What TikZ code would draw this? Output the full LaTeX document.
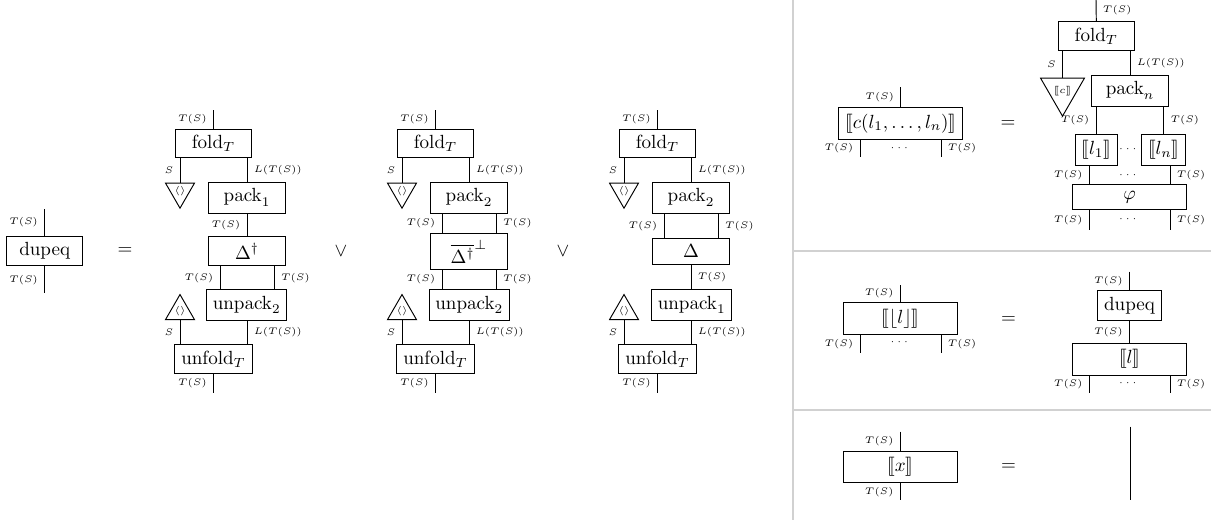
\documentclass[tikz,border=0pt]{standalone}
\usepackage{amsmath,amssymb,stmaryrd}
\usetikzlibrary{shapes.geometric}
\tikzstyle{box}=[rectangle,draw]
\tikzstyle{mbox}=[box,minimum width=40pt]
\tikzstyle{wbox}=[box,minimum width=60pt]
\tikzstyle{lbl}=[font=\tiny]
\tikzstyle{counit}=[regular polygon,regular polygon sides=3,shape border rotate=180,draw,inner sep=0pt,minimum size=17.5pt,font=\tiny]
\tikzstyle{unit}=[regular polygon,regular polygon sides=3,draw,inner sep=0pt,minimum size=17.5pt,font=\tiny]
\tikzstyle{sep}=[draw=black!18,line width=1pt]
\begin{document}
\begin{tikzpicture}[x=0.525pt,y=-0.525pt,line width=0.5pt]
\useasboundingbox (0,0) rectangle (1211,520);

\node (dup) [mbox] at (44.7,251) {dupeq};
\coordinate (dupin) at (44.7,209);
\coordinate (dupout) at (44.7,293);
\node (eq0) at (125,251) {$=$};
\draw (dupin) -- (dup.north) node[lbl,midway,left] {$T(S)$};
\draw (dup.south) -- (dupout) node[lbl,midway,left] {$T(S)$};

\node (fold1) [mbox] at (213.5,143.5) {$\mathrm{fold}_T$};
\coordinate (in1) at (213.5,110);
\node (e1) [counit,anchor=north] at (180,182.7) {$\langle\rangle$};
\node (pack1) [mbox] at (247,197.7) {$\mathrm{pack}_1$};
\node (mid1) [mbox] at (247,251.2) {$\Delta^\dagger$};
\node (unp1) [mbox] at (246.7,305) {$\mathrm{unpack}_2$};
\node (u1) [unit,anchor=south] at (180,320) {$\langle\rangle$};
\node (unf1) [mbox] at (213.5,359) {$\mathrm{unfold}_T$};
\coordinate (out1) at (213.5,392.7);

\draw (in1) -- (fold1.north) node[lbl,midway,left] {$T(S)$};
\draw (e1.north) -- (e1.north |- fold1.south) node[lbl,midway,left] {$S$};
\draw (pack1.north) -- (pack1.north |- fold1.south) node[lbl,midway,right] {$L(T(S))$};
\draw (pack1) -- (mid1) node[lbl,midway,left] {$T(S)$};
\draw (mid1.south -| 220,0) -- (unp1.north -| 220,0) node[lbl,midway,left] {$T(S)$};
\draw (mid1.south -| 274.3,0) -- (unp1.north -| 274.3,0) node[lbl,midway,right] {$T(S)$};
\draw (u1.south) -- (u1.south |- unf1.north) node[lbl,midway,left] {$S$};
\draw (unp1.south -| 247,0) -- (unf1.north -| 247,0) node[lbl,midway,right] {$L(T(S))$};
\draw (unf1.south) -- (out1) node[lbl,midway,left] {$T(S)$};

\node (or1) at (341,251) {$\vee$};

\begin{scope}[shift={(222,0)}]
\node (fold2) [mbox] at (213.5,143.5) {$\mathrm{fold}_T$};
\coordinate (in2) at (213.5,110);
\node (e2) [counit,anchor=north] at (180,182.7) {$\langle\rangle$};
\node (pack2) [mbox] at (247,197.7) {$\mathrm{pack}_2$};
\node (mid2) [mbox] at (247,251.5) {$\overline{\Delta^\dagger}^{\perp}$};
\node (unp2) [mbox] at (247.3,305) {$\mathrm{unpack}_2$};
\node (u2) [unit,anchor=south] at (180,320) {$\langle\rangle$};
\node (unf2) [mbox] at (213.5,359) {$\mathrm{unfold}_T$};
\coordinate (out2) at (213.5,392.7);

\draw (in2) -- (fold2.north) node[lbl,midway,left] {$T(S)$};
\draw (e2.north) -- (e2.north |- fold2.south) node[lbl,midway,left] {$S$};
\draw (pack2.north) -- (pack2.north |- fold2.south) node[lbl,midway,right] {$L(T(S))$};
\draw (pack2.south -| 220,0) -- (mid2.north -| 220,0) node[lbl,midway,left] {$T(S)$};
\draw (pack2.south -| 274.3,0) -- (mid2.north -| 274.3,0) node[lbl,midway,right] {$T(S)$};
\draw (mid2.south -| 220,0) -- (unp2.north -| 220,0) node[lbl,midway,left] {$T(S)$};
\draw (mid2.south -| 274.3,0) -- (unp2.north -| 274.3,0) node[lbl,midway,right] {$T(S)$};
\draw (u2.south) -- (u2.south |- unf2.north) node[lbl,midway,left] {$S$};
\draw (unp2.south -| 247,0) -- (unf2.north -| 247,0) node[lbl,midway,right] {$L(T(S))$};
\draw (unf2.south) -- (out2) node[lbl,midway,left] {$T(S)$};

\node (or2) at (341,251) {$\vee$};
\end{scope}

\begin{scope}[shift={(444,0)}]
\node (fold3) [mbox] at (213.5,143.5) {$\mathrm{fold}_T$};
\coordinate (in3) at (213.5,110);
\node (e3) [counit,anchor=north] at (180,182.7) {$\langle\rangle$};
\node (pack3) [mbox] at (247,197.7) {$\mathrm{pack}_2$};
\node (mid3) [mbox] at (247,251.3) {$\Delta$};
\node (unp3) [mbox] at (247.7,305) {$\mathrm{unpack}_1$};
\node (u3) [unit,anchor=south] at (180,320) {$\langle\rangle$};
\node (unf3) [mbox] at (213.5,359) {$\mathrm{unfold}_T$};
\coordinate (out3) at (213.5,392.7);

\draw (in3) -- (fold3.north) node[lbl,midway,left] {$T(S)$};
\draw (e3.north) -- (e3.north |- fold3.south) node[lbl,midway,left] {$S$};
\draw (pack3.north) -- (pack3.north |- fold3.south) node[lbl,midway,right] {$L(T(S))$};
\draw (pack3.south -| 220,0) -- (mid3.north -| 220,0) node[lbl,midway,left] {$T(S)$};
\draw (pack3.south -| 274.3,0) -- (mid3.north -| 274.3,0) node[lbl,midway,right] {$T(S)$};
\draw (mid3.south -| 247,0) -- (unp3.north -| 247,0) node[lbl,midway,right] {$T(S)$};
\draw (u3.south) -- (u3.south |- unf3.north) node[lbl,midway,left] {$S$};
\draw (unp3.south -| 247,0) -- (unf3.north -| 247,0) node[lbl,midway,right] {$L(T(S))$};
\draw (unf3.south) -- (out3) node[lbl,midway,left] {$T(S)$};
\end{scope}

\draw[sep] (793.3,0) -- (793.3,520);
\draw[sep] (793.3,251) -- (1211,251);
\draw[sep] (793.3,410) -- (1211,410);

\node (cl) [box] at (900.8,123.3) {$\llbracket c(l_1,\ldots,l_n)\rrbracket$};
\coordinate (clin) at (900.8,87.3);
\coordinate (clout1) at (860,156.7);
\coordinate (clout2) at (941,156.7);
\node (cldots) [lbl] at (900.5,148.5) {$\cdots$};
\node (eq1) at (1008,124) {$=$};
\draw (clin) -- (cl.north) node[lbl,midway,left] {$T(S)$};
\draw (cl.south -| clout1) -- (clout1) node[lbl,midway,left] {$T(S)$};
\draw (cl.south -| clout2) -- (clout2) node[lbl,midway,right] {$T(S)$};

\coordinate (fin) at (1096,0);
\node (fold4) [mbox] at (1096.3,36) {$\mathrm{fold}_T$};
\node (e4) [counit,minimum size=25pt,anchor=north] at (1062.5,77.7) {$\llbracket c\rrbracket$};
\node (packn) [mbox] at (1130,90.7) {$\mathrm{pack}_n$};
\node (l1) [box] at (1096.2,150) {$\llbracket l_1\rrbracket$};
\node (ln) [box] at (1163.7,150) {$\llbracket l_n\rrbracket$};
\node (ldots) [lbl] at (1129,149) {$\cdots$};
\node (phi) [wbox] at (1129.7,197.2) {$\varphi$};
\node (phidots1) [lbl] at (1129,175) {$\cdots$};
\node (phidots2) [lbl] at (1129,219) {$\cdots$};
\coordinate (phiout1) at (1089.3,230);
\coordinate (phiout2) at (1170,230);

\draw (fin) -- (fold4.north) node[lbl,midway,right] {$T(S)$};
\draw (e4.north) -- (e4.north |- fold4.south) node[lbl,midway,left] {$S$};
\draw (packn.north) -- (packn.north |- fold4.south) node[lbl,midway,right] {$L(T(S))$};
\draw (l1.north) -- (l1.north |- packn.south) node[lbl,midway,left] {$T(S)$};
\draw (ln.north) -- (ln.north |- packn.south) node[lbl,midway,right] {$T(S)$};
\draw (l1.south -| phiout1) -- (phi.north -| phiout1) node[lbl,midway,left] {$T(S)$};
\draw (ln.south -| phiout2) -- (phi.north -| phiout2) node[lbl,midway,right] {$T(S)$};
\draw (phi.south -| phiout1) -- (phiout1) node[lbl,midway,left] {$T(S)$};
\draw (phi.south -| phiout2) -- (phiout2) node[lbl,midway,right] {$T(S)$};

\node (fl) [wbox] at (900.3,318.3) {$\llbracket\lfloor l\rfloor\rrbracket$};
\coordinate (flin) at (900.3,285);
\coordinate (flout1) at (860,352.7);
\coordinate (flout2) at (941,352.7);
\node (fldots) [lbl] at (900.5,342.5) {$\cdots$};
\node (eq2) at (1008.5,320) {$=$};
\draw (flin) -- (fl.north) node[lbl,midway,left] {$T(S)$};
\draw (fl.south -| flout1) -- (flout1) node[lbl,midway,left] {$T(S)$};
\draw (fl.south -| flout2) -- (flout2) node[lbl,midway,right] {$T(S)$};

\coordinate (dpin) at (1129.5,271.7);
\node (dup2) [box] at (1129.5,305.5) {dupeq};
\node (lb) [wbox] at (1129.7,359.2) {$\llbracket l\rrbracket$};
\coordinate (lbout1) at (1089.3,392.7);
\coordinate (lbout2) at (1170,392.7);
\node (lbdots) [lbl] at (1129,383) {$\cdots$};
\draw (dpin) -- (dup2.north) node[lbl,midway,left] {$T(S)$};
\draw (dup2.south) -- (dup2.south |- lb.north) node[lbl,midway,left] {$T(S)$};
\draw (lb.south -| lbout1) -- (lbout1) node[lbl,midway,left] {$T(S)$};
\draw (lb.south -| lbout2) -- (lbout2) node[lbl,midway,right] {$T(S)$};

\node (xb) [wbox] at (900.3,467) {$\llbracket x\rrbracket$};
\coordinate (xin) at (900.3,431.7);
\coordinate (xout) at (900.3,500);
\node (eq3) at (1008.5,467) {$=$};
\coordinate (idtop) at (1130,426.7);
\coordinate (idbot) at (1130,500);
\draw (xin) -- (xb.north) node[lbl,midway,left] {$T(S)$};
\draw (xb.south) -- (xout) node[lbl,midway,left] {$T(S)$};
\draw (idtop) -- (idbot);

\end{tikzpicture}
\end{document}
